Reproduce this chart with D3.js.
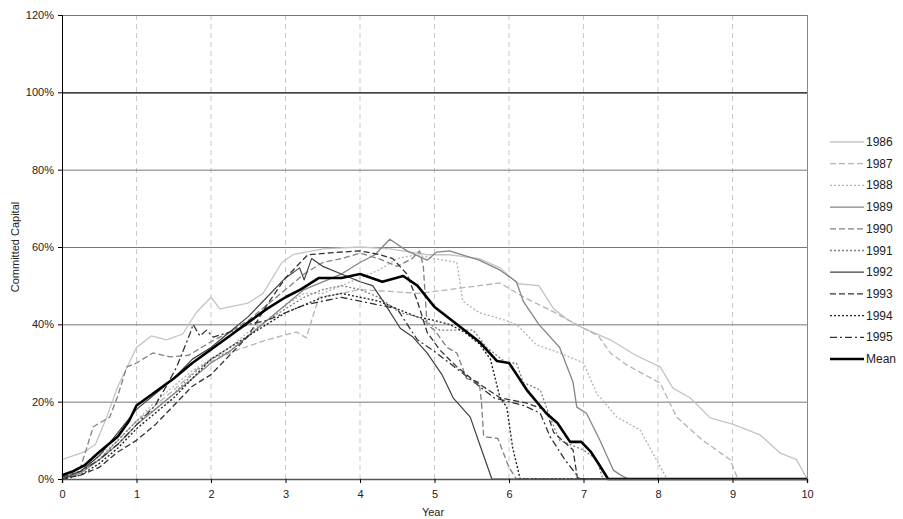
<!DOCTYPE html>
<html>
<head>
<meta charset="utf-8">
<script src="https://cdn.jsdelivr.net/npm/d3@7"></script>
<style>
  body { margin: 0; background: #fff; }
  text { font-family: "Liberation Sans", Arial, sans-serif; }
</style>
</head>
<body>
<div id="chart"></div>
<script>
// series names and legend labels
var seriesNames = ["1986", "1987", "1988", "1989", "1990", "1991", "1992", "1993", "1994", "1995", "Mean"];

// [year, committed capital %]
var s1986 = [[0,5],[0.3,7],[0.45,9],[0.6,16],[0.75,24],[0.9,30],[1.0,34],[1.2,37],[1.4,36],[1.62,37.5],[1.8,43],[2.0,47],[2.12,44],[2.5,45.5],[2.7,48],[2.95,56],[3.1,58],[3.5,59.5],[4.0,60],[4.4,59.5],[4.9,58],[5.2,58],[5.6,57],[5.88,54.6],[6.12,50.5],[6.4,50],[6.6,44],[6.8,41],[7.0,39],[7.36,36],[7.7,32],[8.03,29],[8.2,23.5],[8.43,21],[8.7,15.8],[9.0,14.2],[9.37,11.4],[9.64,6.7],[9.86,5],[10,0]];
var s1987 = [[0,0.5],[0.25,2],[0.5,5],[0.75,10],[1.0,15],[1.25,19],[1.5,23],[1.85,29],[2.3,33],[2.75,36],[3.15,38],[3.28,36.5],[3.35,41],[3.45,47],[3.75,48],[4.0,49],[4.4,48.5],[4.8,48],[5.2,49],[5.6,50],[5.88,50.7],[6.2,47],[6.55,43.7],[7.0,39],[7.2,37],[7.36,32.6],[7.58,29.5],[8.03,24.8],[8.25,16],[8.6,10],[8.97,5],[9.07,0],[10,0]];
var s1988 = [[0,0.5],[0.25,2],[0.5,6],[0.75,10],[1.0,15],[1.25,20],[1.5,24],[1.75,28],[2.0,31],[2.25,34],[2.5,38],[2.75,41],[3.0,45],[3.25,48],[3.5,48],[3.75,50],[4.0,52],[4.25,54],[4.5,57],[4.75,58],[5.0,57],[5.3,56],[5.38,46],[5.6,43],[5.88,41.5],[6.1,40],[6.37,34.7],[6.68,32.6],[7.0,30],[7.18,22],[7.45,16],[7.76,12.7],[7.93,6.7],[8.12,0],[10,0]];
var s1989 = [[0,0],[0.25,1.5],[0.5,5],[0.75,9],[1.0,14],[1.25,18],[1.5,22],[1.75,26],[2.0,30],[2.25,33],[2.5,37],[2.75,41],[3.0,45],[3.25,49],[3.5,51],[3.75,53],[4.0,56],[4.2,58],[4.4,62],[4.63,59],[4.9,56.6],[5.03,58.7],[5.2,59],[5.6,56.6],[5.88,54],[6.1,51],[6.19,46],[6.4,40],[6.68,34],[6.86,25],[6.91,18.6],[7.04,17],[7.22,10],[7.4,2.3],[7.5,1],[7.6,0],[10,0]];
var s1990 = [[0,0.5],[0.25,3],[0.42,13.5],[0.64,16],[0.74,21],[0.87,29],[1.0,30],[1.22,32.6],[1.45,31.6],[1.7,32],[2.0,35.5],[2.25,38],[2.5,41],[2.75,45],[3.0,49],[3.25,53],[3.5,56],[3.75,57],[4.0,58.4],[4.25,57],[4.5,55],[4.7,57],[4.8,59],[4.85,55],[4.9,40],[5.0,38.5],[5.17,34],[5.3,32.6],[5.43,26],[5.6,25],[5.63,20],[5.66,11],[5.85,10.5],[6.0,3],[6.1,0],[10,0]];
var s1991 = [[0,0.5],[0.25,2],[0.5,5],[0.75,10],[1.0,15],[1.25,18],[1.5,22],[1.75,27],[2.0,31],[2.25,33],[2.5,37],[2.75,41],[3.0,44],[3.25,47],[3.5,49],[3.75,50],[4.0,49],[4.25,47],[4.54,43],[4.77,42],[5.07,38.5],[5.52,38.5],[5.7,34],[5.97,30],[6.1,30],[6.19,25],[6.42,23],[6.55,16],[6.68,10],[7.0,7.5],[7.18,5],[7.26,0],[10,0]];
var s1992 = [[0,0],[0.25,2],[0.5,6],[0.75,12],[1.0,18],[1.25,22],[1.5,26],[1.75,31],[2.0,34],[2.25,38],[2.5,42],[2.75,47],[3.0,52],[3.19,54.6],[3.25,51.5],[3.35,57],[3.5,55],[3.75,53],[4.0,51],[4.17,50],[4.31,46],[4.54,39],[4.71,36.7],[4.9,32.6],[5.1,27],[5.25,21],[5.48,16],[5.6,9.3],[5.77,0],[10,0]];
var s1993 = [[0,0],[0.25,1],[0.5,3],[0.75,7],[1.0,10],[1.25,14],[1.5,19],[1.75,24],[2.0,27],[2.25,32],[2.5,37],[2.75,45],[3.0,52],[3.3,58],[3.6,58.5],[4.0,59],[4.27,58],[4.44,57],[4.63,53],[4.77,46],[4.9,38],[5.07,33.4],[5.3,29],[5.52,25.6],[5.88,21],[6.24,19.6],[6.5,17.8],[6.6,12],[6.86,7.5],[6.92,0],[10,0]];
var s1994 = [[0,0],[0.25,1],[0.5,4],[0.75,8],[1.0,13],[1.25,17],[1.5,21],[1.75,26],[2.0,31],[2.25,34],[2.5,37],[2.75,40],[3.0,43],[3.25,45],[3.5,47],[3.75,48],[4.0,47],[4.25,46],[4.5,44],[4.75,42],[5.0,41],[5.2,40],[5.4,38],[5.6,35],[5.75,31],[5.88,21],[5.97,18.6],[6.05,8],[6.15,0],[10,0]];
var s1995 = [[0,0.5],[0.25,2],[0.5,5],[0.75,9],[1.0,14],[1.25,19],[1.4,24],[1.54,29],[1.72,37.7],[1.76,40],[1.85,37],[1.94,38.5],[2.03,36.7],[2.25,38],[2.5,40],[2.75,41],[3.0,43],[3.25,45],[3.5,46],[3.75,47],[4.0,46],[4.25,45],[4.5,44],[4.6,41],[4.77,36],[5.0,33],[5.2,30],[5.4,27],[5.6,24],[5.8,21],[6.0,20],[6.2,19],[6.42,17],[6.55,11],[6.75,5],[6.95,0],[10,0]];
var sMean = [[0,1],[0.15,2],[0.3,3.5],[0.5,7],[0.75,11],[0.9,15],[1.0,19],[1.25,22.5],[1.5,26],[1.75,30],[2.0,33.5],[2.25,37],[2.5,40.5],[2.75,44],[3.0,47],[3.2,49],[3.45,52],[3.75,52],[4.0,53],[4.3,51],[4.58,52.5],[4.77,50],[5.0,44.5],[5.3,40],[5.6,35.5],[5.84,30.5],[6.0,30],[6.24,23],[6.5,17],[6.65,14.5],[6.82,9.6],[6.97,9.6],[7.1,7],[7.2,4],[7.33,0],[10,0]];

var yearTicks = [0, 1, 2, 3, 4, 5, 6, 7, 8, 9, 10];
var pctTicks = [0, 20, 40, 60, 80, 100, 120];

var seriesData = [s1986, s1987, s1988, s1989, s1990, s1991, s1992, s1993, s1994, s1995, sMean];

// line styles, one per series
var styles = [
  { color: "#c4c4c4", dash: null, width: 1.3 },
  { color: "#b4b4b4", dash: "6,3", width: 1.3 },
  { color: "#b4b4b4", dash: "2,2", width: 1.3 },
  { color: "#858585", dash: null, width: 1.3 },
  { color: "#808080", dash: "6,3", width: 1.3 },
  { color: "#808080", dash: "2,2", width: 1.3 },
  { color: "#404040", dash: null, width: 1.2 },
  { color: "#333333", dash: "6,3", width: 1.3 },
  { color: "#222222", dash: "2,2", width: 1.4 },
  { color: "#333333", dash: "7,3,2,3", width: 1.3 },
  { color: "#000000", dash: null, width: 2.6 }
];

var W = 903, H = 519;
var svg = d3.select("#chart").append("svg")
  .attr("width", W).attr("height", H);

var x = d3.scaleLinear().domain([0, 10]).range([62, 807]);
var y = d3.scaleLinear().domain([0, 120]).range([479, 15]);

// vertical dashed grid
svg.append("g").selectAll("line")
  .data(yearTicks.slice(1, -1))
  .enter().append("line")
  .attr("x1", function(d) { return x(d); })
  .attr("x2", function(d) { return x(d); })
  .attr("y1", y(120)).attr("y2", y(0))
  .style("stroke", "#c8c8c8")
  .style("stroke-dasharray", "5,4");

// horizontal grid
svg.append("g").selectAll("line")
  .data(pctTicks.slice(1))
  .enter().append("line")
  .attr("x1", x(0)).attr("x2", x(10))
  .attr("y1", function(d) { return y(d) + 0.5; })
  .attr("y2", function(d) { return y(d) + 0.5; })
  .style("stroke", function(d) { return d == 100 ? "#000" : "#777"; })
  .style("stroke-width", function(d) { return d == 100 ? 1.3 : 1; });

// right border
svg.append("line")
  .attr("x1", x(10) + 0.5).attr("x2", x(10) + 0.5)
  .attr("y1", y(120)).attr("y2", y(0))
  .style("stroke", "#888");

var line = d3.line()
  .x(function(d) { return x(d[0]); })
  .y(function(d) { return y(d[1]); });

svg.append("g").selectAll("path")
  .data(seriesData)
  .enter().append("path")
  .attr("d", line)
  .style("fill", "none")
  .style("stroke", function(d, i) { return styles[i].color; })
  .style("stroke-width", function(d, i) { return styles[i].width; })
  .style("stroke-dasharray", function(d, i) { return styles[i].dash; })
  .style("stroke-linejoin", "round");

// axes
var yAxis = d3.axisLeft(y).tickValues(pctTicks).tickSize(4)
  .tickFormat(function(d) { return d + "%"; });
var gy = svg.append("g").attr("transform", "translate(" + x(0) + ",0)").call(yAxis);
gy.selectAll("text").style("font-size", "11px").style("fill", "#222").attr("x", -8);
gy.select(".domain").style("stroke", "#000");

var xAxis = d3.axisBottom(x).tickValues(yearTicks).tickSize(4);
var gx = svg.append("g").attr("transform", "translate(0," + y(0) + ")").call(xAxis);
gx.selectAll("text").style("font-size", "11px").style("fill", "#222").attr("y", 11);
gx.select(".domain").style("stroke", "#555").style("stroke-width", 1.5);

// axis titles
svg.append("text")
  .attr("x", 433).attr("y", 516)
  .attr("text-anchor", "middle")
  .style("font-size", "11px").style("fill", "#222")
  .text("Year");

svg.append("text")
  .attr("transform", "translate(19," + 247 + ") rotate(-90)")
  .attr("text-anchor", "middle")
  .style("font-size", "11px").style("fill", "#222")
  .text("Committed Capital");

// legend
var legend = svg.append("g").selectAll("g")
  .data(seriesNames)
  .enter().append("g")
  .attr("transform", function(d, i) { return "translate(830," + (142 + i * 21.7) + ")"; });

legend.append("line")
  .attr("x1", 0).attr("x2", 34)
  .style("stroke", function(d, i) { return styles[i].color; })
  .style("stroke-width", function(d, i) { return styles[i].width; })
  .style("stroke-dasharray", function(d, i) { return styles[i].dash; });

legend.append("text")
  .attr("x", 36).attr("y", 4)
  .style("font-size", "12px").style("fill", "#222")
  .text(function(d) { return d; });
</script>
</body>
</html>
